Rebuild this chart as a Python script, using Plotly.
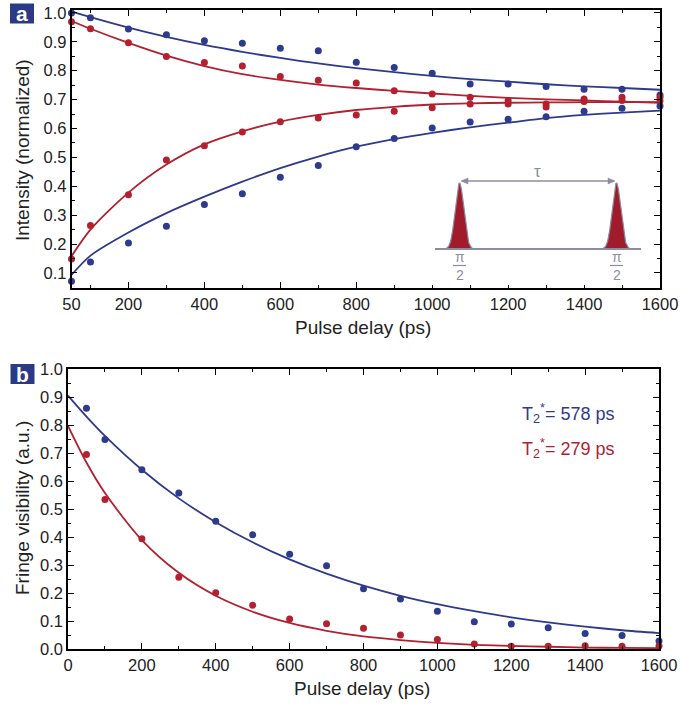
import numpy as np
import plotly.graph_objects as go

# ---------------- data ----------------
x_a = [50, 100, 200, 300, 400, 500, 600, 700, 800, 900, 1000, 1100, 1200, 1300, 1400, 1500, 1600]
blue_upper_pts = [1.0, 0.983, 0.944, 0.924, 0.904, 0.895, 0.878, 0.869, 0.829, 0.811, 0.791, 0.754, 0.754, 0.745, 0.736, 0.736, 0.716]
red_upper_pts = [0.969, 0.945, 0.897, 0.849, 0.828, 0.816, 0.78, 0.767, 0.757, 0.731, 0.719, 0.708, 0.697, 0.685, 0.702, 0.708, 0.708]
red_lower_pts = [0.148, 0.264, 0.371, 0.491, 0.54, 0.588, 0.623, 0.636, 0.647, 0.66, 0.672, 0.685, 0.685, 0.674, 0.693, 0.697, 0.695]
blue_lower_pts = [0.071, 0.138, 0.204, 0.262, 0.337, 0.374, 0.431, 0.472, 0.537, 0.565, 0.602, 0.622, 0.632, 0.641, 0.66, 0.67, 0.678]

blue_upper_fit = [1.005, 0.985, 0.949, 0.917, 0.889, 0.865, 0.844, 0.825, 0.809, 0.795, 0.782, 0.771, 0.762, 0.753, 0.746, 0.740, 0.734]
red_upper_fit = [0.972, 0.945, 0.896, 0.852, 0.816, 0.788, 0.768, 0.752, 0.740, 0.730, 0.721, 0.713, 0.706, 0.701, 0.697, 0.693, 0.689]
red_lower_fit = [0.158, 0.250, 0.378, 0.475, 0.545, 0.590, 0.624, 0.647, 0.664, 0.675, 0.683, 0.687, 0.689, 0.690, 0.691, 0.691, 0.691]
blue_lower_fit = [0.093, 0.160, 0.240, 0.307, 0.364, 0.416, 0.463, 0.503, 0.537, 0.563, 0.585, 0.604, 0.620, 0.636, 0.647, 0.655, 0.662]

x_b = [50, 100, 200, 300, 400, 500, 600, 700, 800, 900, 1000, 1100, 1200, 1300, 1400, 1500, 1600]
blue_b_pts = [0.86, 0.748, 0.64, 0.557, 0.456, 0.408, 0.338, 0.297, 0.215, 0.179, 0.135, 0.097, 0.089, 0.076, 0.055, 0.048, 0.029]
red_b_pts = [0.695, 0.534, 0.394, 0.256, 0.201, 0.156, 0.107, 0.09, 0.074, 0.05, 0.034, 0.018, 0.01, 0.01, 0.012, 0.01, 0.011]

x_b_fit = [0, 50, 100, 200, 300, 400, 500, 600, 700, 800, 900, 1000, 1100, 1200, 1300, 1400, 1500, 1600]
blue_b_fit = [0.905, 0.830, 0.761, 0.640, 0.538, 0.453, 0.381, 0.320, 0.269, 0.226, 0.190, 0.160, 0.135, 0.113, 0.095, 0.080, 0.067, 0.057]
red_b_fit = [0.797, 0.666, 0.557, 0.389, 0.272, 0.190, 0.133, 0.093, 0.065, 0.045, 0.032, 0.022, 0.015, 0.011, 0.008, 0.005, 0.004, 0.003]

xa_ticks = [50, 200, 400, 600, 800, 1000, 1200, 1400, 1600]
xa_minor = [100, 300, 500, 700, 900, 1100, 1300, 1500]
xb_ticks = [0, 200, 400, 600, 800, 1000, 1200, 1400, 1600]
xb_minor = [100, 300, 500, 700, 900, 1100, 1300, 1500]
y_ticks_a = [0.1, 0.2, 0.3, 0.4, 0.5, 0.6, 0.7, 0.8, 0.9, 1.0]
y_ticks_b = [0.0, 0.1, 0.2, 0.3, 0.4, 0.5, 0.6, 0.7, 0.8, 0.9, 1.0]
y_minor = [0.05, 0.15, 0.25, 0.35, 0.45, 0.55, 0.65, 0.75, 0.85, 0.95]

# ---------------- style ----------------
BLUE = "#2E3A8C"
RED = "#B3202F"
GRAY = "#8C8CA0"
PULSE = "#A01C2C"
NAVY = "#2B3A85"
FONT = "Liberation Sans, Arial, Helvetica, sans-serif"

W, H = 681, 704
ML, MR, MT, MB = 68, 21, 10, 55
PW, PH = W - ML - MR, H - MT - MB


def px(x):
    return (x - ML) / PW


def py(y):
    return (H - MB - y) / PH


fig = go.Figure()

mk = dict(size=7)
ln = dict(width=1.8, shape="spline", smoothing=0.8)

# panel a
for yv, c in [(blue_upper_fit, BLUE), (red_upper_fit, RED), (red_lower_fit, RED), (blue_lower_fit, BLUE)]:
    fig.add_trace(go.Scatter(x=x_a, y=yv, mode="lines", line=dict(color=c, **ln),
                             xaxis="x", yaxis="y", showlegend=False, hoverinfo="skip"))
for yv, c in [(blue_upper_pts, BLUE), (red_upper_pts, RED), (red_lower_pts, RED), (blue_lower_pts, BLUE)]:
    fig.add_trace(go.Scatter(x=x_a, y=yv, mode="markers", marker=dict(color=c, **mk),
                             xaxis="x", yaxis="y", showlegend=False, cliponaxis=False))

# panel b
for yv, c in [(blue_b_fit, BLUE), (red_b_fit, RED)]:
    fig.add_trace(go.Scatter(x=x_b_fit, y=yv, mode="lines", line=dict(color=c, **ln),
                             xaxis="x2", yaxis="y2", showlegend=False, hoverinfo="skip"))
for yv, c in [(blue_b_pts, BLUE), (red_b_pts, RED)]:
    fig.add_trace(go.Scatter(x=x_b, y=yv, mode="markers", marker=dict(color=c, **mk),
                             xaxis="x2", yaxis="y2", showlegend=False, cliponaxis=False))

# inset schematic (pixel-like coordinates on a hidden axis)
base_y = 249
for cx in [459.5, 616.5]:
    dx = np.linspace(-13, 13, 81)
    yy = base_y - 66 * np.exp(-dx ** 2 / (2 * 4.3 ** 2))
    fig.add_trace(go.Scatter(x=list(cx + dx), y=list(yy), mode="lines", fill="toself",
                             fillcolor=PULSE, line=dict(color=GRAY, width=1.2),
                             xaxis="x3", yaxis="y3", showlegend=False, hoverinfo="skip"))

ax_common = dict(showline=True, linecolor="black", linewidth=1.6, mirror="allticks",
                 ticks="inside", ticklen=6, tickwidth=1.4, tickcolor="black",
                 showgrid=False, zeroline=False, automargin=False,
                 tickfont=dict(family=FONT, size=16.5, color="#222"))
minor_common = dict(ticks="inside", ticklen=3.5, tickwidth=1.2, tickcolor="black", showgrid=False)

fig.update_layout(
    width=W, height=H,
    margin=dict(l=ML, r=MR, t=MT, b=MB),
    paper_bgcolor="white", plot_bgcolor="white",
    xaxis=dict(domain=[px(71.5), 1], range=[50, 1600], tickvals=xa_ticks,
               minor=dict(tickvals=xa_minor, **minor_common), anchor="y", **ax_common),
    yaxis=dict(domain=[py(288), py(10)], range=[0.048, 1.01], tickvals=y_ticks_a,
               tickformat=".1f", minor=dict(tickvals=y_minor, **minor_common), anchor="x", **ax_common),
    xaxis2=dict(domain=[0, px(659)], range=[0, 1600], tickvals=xb_ticks,
                minor=dict(tickvals=xb_minor, **minor_common), anchor="y2", **ax_common),
    yaxis2=dict(domain=[0, py(369)], range=[0, 1.0], tickvals=y_ticks_b,
                tickformat=".1f", minor=dict(tickvals=y_minor, **minor_common), anchor="x2", **ax_common),
    xaxis3=dict(domain=[px(430), px(650)], range=[430, 650], visible=False, anchor="y3",
                fixedrange=True, automargin=False),
    yaxis3=dict(domain=[py(285), py(165)], range=[285, 165], visible=False, anchor="x3",
                fixedrange=True, automargin=False),
)

# inset baseline, double arrow, labels
fig.add_shape(type="line", xref="x3", yref="y3", x0=435, x1=641, y0=base_y, y1=base_y,
              line=dict(color=GRAY, width=2))
fig.add_shape(type="line", xref="x3", yref="y3", x0=462, x1=614, y0=181, y1=181,
              line=dict(color=GRAY, width=1.4))
fig.add_shape(type="path", xref="x3", yref="y3", path="M 461,181 L 468,178 L 468,184 Z",
              fillcolor=GRAY, line=dict(color=GRAY, width=0.5))
fig.add_shape(type="path", xref="x3", yref="y3", path="M 615,181 L 608,178 L 608,184 Z",
              fillcolor=GRAY, line=dict(color=GRAY, width=0.5))
fig.add_annotation(xref="x3", yref="y3", x=537, y=172, text="τ", showarrow=False,
                   font=dict(family=FONT, size=17, color=GRAY))
for cx in [459.5, 616.5]:
    fig.add_annotation(xref="x3", yref="y3", x=cx, y=266, text="π<br>2", showarrow=False,
                       font=dict(family=FONT, size=14, color=GRAY), xanchor="center", yanchor="middle")
    fig.add_shape(type="line", xref="x3", yref="y3", x0=cx - 6.5, x1=cx + 6.5, y0=265.5, y1=265.5,
                  line=dict(color=GRAY, width=1.2))

# panel labels
for lbl, cx, cy in [("a", 22, 13.5), ("b", 22.5, 374)]:
    fig.add_shape(type="rect", xref="paper", yref="paper",
                  x0=px(cx - 12), x1=px(cx + 12), y0=py(cy + 10), y1=py(cy - 10),
                  fillcolor=NAVY, line=dict(width=0))
    fig.add_annotation(xref="paper", yref="paper", x=px(cx), y=py(cy + 0.5), text="<b>%s</b>" % lbl,
                       showarrow=False, font=dict(family=FONT, size=21, color="white"),
                       xanchor="center", yanchor="middle")

# axis titles
TF = dict(family=FONT, size=19, color="#222")
fig.add_annotation(xref="paper", yref="paper", x=px(22), y=py(150), text="Intensity (normalized)",
                   textangle=-90, showarrow=False, font=TF, xanchor="center", yanchor="middle")
fig.add_annotation(xref="paper", yref="paper", x=px(22), y=py(508), text="Fringe visibility (a.u.)",
                   textangle=-90, showarrow=False, font=TF, xanchor="center", yanchor="middle")
fig.add_annotation(xref="paper", yref="paper", x=px(363), y=py(327), text="Pulse delay (ps)",
                   showarrow=False, font=TF, xanchor="center", yanchor="middle")
fig.add_annotation(xref="paper", yref="paper", x=px(362), y=py(688), text="Pulse delay (ps)",
                   showarrow=False, font=TF, xanchor="center", yanchor="middle")

# T2* labels
fig.add_annotation(xref="paper", yref="paper", x=px(616), y=py(413),
                   text="T<sub>2</sub><sup>*</sup>= 578 ps", showarrow=False,
                   font=dict(family=FONT, size=18, color=BLUE), xanchor="right", yanchor="middle")
fig.add_annotation(xref="paper", yref="paper", x=px(616), y=py(448),
                   text="T<sub>2</sub><sup>*</sup>= 279 ps", showarrow=False,
                   font=dict(family=FONT, size=18, color=RED), xanchor="right", yanchor="middle")

fig.write_html("out.html", config={"displayModeBar": False},
               post_script="document.body.style.margin='0';document.body.style.padding='0';")
